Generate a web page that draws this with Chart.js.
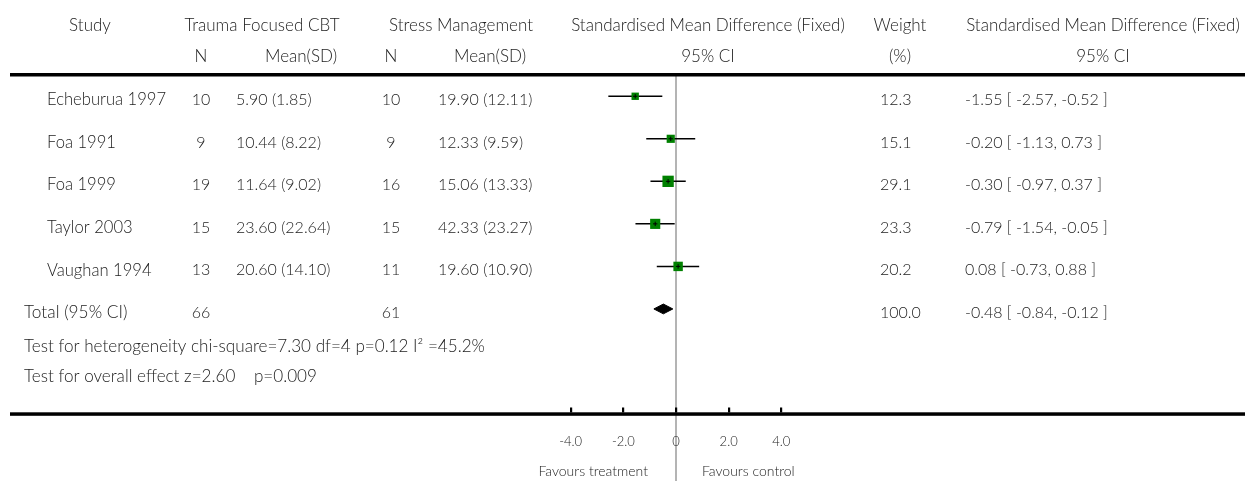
<!DOCTYPE html>
<html><head><meta charset="utf-8">
<script src="https://cdn.jsdelivr.net/npm/chart.js@4.4.1/dist/chart.umd.min.js"></script>
<style>html,body{margin:0;padding:0;background:#fff;}#wrap{width:1245px;height:481px;}</style>
</head><body><div id="wrap"><canvas id="c" width="1245" height="481"></canvas></div>
<script>
// ---- data ----
const studies = ['Echeburua 1997','Foa 1991','Foa 1999','Taylor 2003','Vaughan 1994'];
const treatN = [10, 9, 19, 15, 13];
const treatMeanSD = ['5.90 (1.85)','10.44 (8.22)','11.64 (9.02)','23.60 (22.64)','20.60 (14.10)'];
const controlN = [10, 9, 16, 15, 11];
const controlMeanSD = ['19.90 (12.11)','12.33 (9.59)','15.06 (13.33)','42.33 (23.27)','19.60 (10.90)'];
const smd = [-1.55, -0.20, -0.30, -0.79, 0.08];
const ciLow = [-2.57, -1.13, -0.97, -1.54, -0.73];
const ciHigh = [-0.52, 0.73, 0.37, -0.05, 0.88];
const weights = [12.3, 15.1, 29.1, 23.3, 20.2];
const totalN = [66, 61];
const totalEffect = [-0.48, -0.84, -0.12]; // estimate, low, high
const totalWeight = [100.0];
const xTicks = [-4, -2, 0, 2, 4];
const xTickLabels = ['-4.0', '-2.0', '0', '2.0', '4.0'];
const statLines = ['Test for heterogeneity chi-square=7.30 df=4 p=0.12 I\u00B2 =45.2%',
                   'Test for overall effect z=2.60    p=0.009'];

// ---- layout / style ----
const FONT = 'Lato, "Open Sans", sans-serif';
const TXT = '#222222';
const PXU = 26.67;            // px per SMD unit
const ZERO_PX = 676.7;
const W = 1245, H = 481;
const ROW_PX = 44, ROW1_PX = 91.3;
const X_MIN = -ZERO_PX / PXU, X_MAX = X_MIN + W / PXU;
const Y_MIN = 1 - ROW1_PX / ROW_PX, Y_MAX = Y_MIN + H / ROW_PX;
const TOTAL_ROW = studies.length + 1;

const rows = studies.map((_, i) => i + 1);
const ciDatasets = studies.map((s, i) => ({
  type: 'scatter', showLine: true, order: 5,
  data: [{x: ciLow[i], y: rows[i]}, {x: ciHigh[i], y: rows[i]}],
  borderColor: '#000', borderWidth: 1.5, pointRadius: 0
}));
const squares = {
  type: 'scatter', order: 3,
  data: smd.map((v, i) => ({x: v, y: rows[i]})),
  pointStyle: 'rect',
  pointRadius: weights.map(w => 2.1 * Math.sqrt(w) / Math.SQRT2),
  backgroundColor: '#008000', borderWidth: 0
};
const crosses = {
  type: 'scatter', order: 2,
  data: smd.map((v, i) => ({x: v, y: rows[i]})),
  pointStyle: 'cross', pointRadius: 2.2,
  borderColor: '#000', borderWidth: 1, backgroundColor: '#000'
};
const DH = 0.115;
const diamond = {
  type: 'scatter', showLine: true, order: 1, fill: 'shape', tension: 0,
  data: [
    {x: totalEffect[1], y: TOTAL_ROW}, {x: totalEffect[0], y: TOTAL_ROW - DH},
    {x: totalEffect[2], y: TOTAL_ROW}, {x: totalEffect[0], y: TOTAL_ROW + DH},
    {x: totalEffect[1], y: TOTAL_ROW}
  ],
  borderColor: '#000', backgroundColor: '#000', borderWidth: 1, pointRadius: 0
};

function txt(ctx, s, x, y, align, size) {
  ctx.font = '300 ' + (size || 16) + 'px ' + FONT;
  ctx.fillStyle = TXT;
  ctx.textAlign = align || 'left';
  ctx.textBaseline = 'middle';
  ctx.fillText(s, x, y);
}

const forestPlugin = {
  id: 'forest',
  beforeDatasetsDraw(chart) {
    const ctx = chart.ctx, xs = chart.scales.x;
    const x0 = xs.getPixelForValue(0);
    ctx.save();
    ctx.strokeStyle = '#b4b4b4'; ctx.lineWidth = 2;
    ctx.beginPath(); ctx.moveTo(x0, 76); ctx.lineTo(x0, H); ctx.stroke();
    ctx.restore();
  },
  afterDraw(chart) {
    const ctx = chart.ctx, xs = chart.scales.x, ys = chart.scales.y;
    ctx.save();
    // rules
    ctx.fillStyle = '#000';
    ctx.fillRect(10, 73, W - 10, 3.5);
    ctx.fillRect(10, 412.3, W - 10, 3.5);
    // tick marks
    xTicks.forEach(t => {
      const px = xs.getPixelForValue(t);
      ctx.fillRect(Math.round(px) - 1, 407.5, 2.2, 5);
    });
    xTicks.forEach((t, i) => txt(ctx, xTickLabels[i], xs.getPixelForValue(t), 442, 'center', 13));
    const x0 = xs.getPixelForValue(0);
    txt(ctx, 'Favours treatment', x0 - 28, 471, 'right', 14);
    txt(ctx, 'Favours control', x0 + 26, 471, 'left', 14);
    // headers
    const h1 = 26, h2 = 57;
    txt(ctx, 'Study', 90, h1, 'center', 17);
    txt(ctx, 'Trauma Focused CBT', 262, h1, 'center', 17);
    txt(ctx, 'Stress Management', 461, h1, 'center', 17);
    txt(ctx, 'Standardised Mean Difference (Fixed)', 708, h1, 'center', 17);
    txt(ctx, 'Weight', 900, h1, 'center', 17);
    txt(ctx, 'Standardised Mean Difference (Fixed)', 1103, h1, 'center', 17);
    txt(ctx, 'N', 201, h2, 'center', 17);
    txt(ctx, 'Mean(SD)', 301, h2, 'center', 17);
    txt(ctx, 'N', 391, h2, 'center', 17);
    txt(ctx, 'Mean(SD)', 490, h2, 'center', 17);
    txt(ctx, '95% CI', 708, h2, 'center', 17);
    txt(ctx, '(%)', 900, h2, 'center', 17);
    txt(ctx, '95% CI', 1103, h2, 'center', 17);
    // study rows
    studies.forEach((s, i) => {
      const y = ys.getPixelForValue(rows[i]) + 3.8;
      txt(ctx, s, 47, y, 'left', 16.6);
      txt(ctx, String(treatN[i]), 201, y, 'center');
      txt(ctx, treatMeanSD[i], 236, y);
      txt(ctx, String(controlN[i]), 391, y, 'center');
      txt(ctx, controlMeanSD[i], 438, y);
      txt(ctx, weights[i].toFixed(1), 880, y);
      txt(ctx, smd[i].toFixed(2) + ' [ ' + ciLow[i].toFixed(2) + ', ' + ciHigh[i].toFixed(2) + ' ]', 965, y);
    });
    const yt = ys.getPixelForValue(TOTAL_ROW) + 3.8;
    txt(ctx, 'Total (95% CI)', 24, yt, 'left', 17.3);
    txt(ctx, String(totalN[0]), 201, yt, 'center');
    txt(ctx, String(totalN[1]), 391, yt, 'center');
    txt(ctx, totalWeight[0].toFixed(1), 880, yt);
    txt(ctx, totalEffect[0].toFixed(2) + ' [ ' + totalEffect[1].toFixed(2) + ', ' + totalEffect[2].toFixed(2) + ' ]', 965, yt);
    txt(ctx, statLines[0], 24, 346, 'left', 17.1);
    txt(ctx, statLines[1], 24, 376, 'left', 17.1);
    ctx.restore();
  }
};

new Chart(document.getElementById('c'), {
  type: 'scatter',
  data: { datasets: [...ciDatasets, squares, crosses, diamond] },
  options: {
    responsive: false, animation: false, devicePixelRatio: 1,
    layout: { padding: 0 },
    scales: {
      x: { type: 'linear', min: X_MIN, max: X_MAX, display: false },
      y: { type: 'linear', min: Y_MIN, max: Y_MAX, reverse: true, display: false }
    },
    plugins: { legend: { display: false }, tooltip: { enabled: false } }
  },
  plugins: [forestPlugin]
});
</script></body></html>
